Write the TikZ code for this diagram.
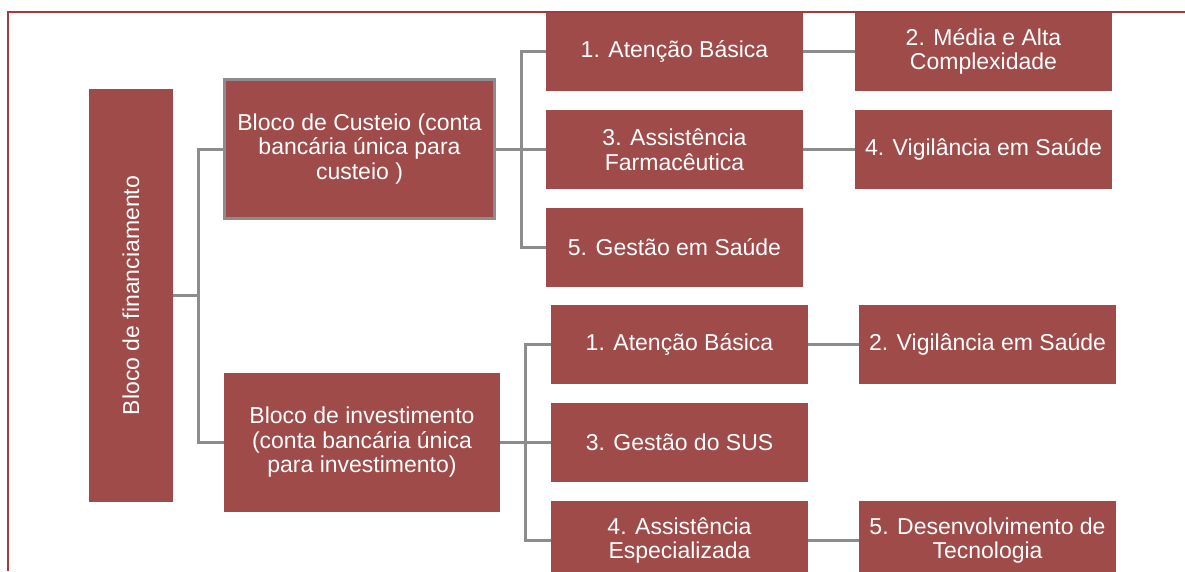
\documentclass[tikz,border=0pt]{standalone}
\usepackage{fontspec}
\usepackage{graphicx}
\setmainfont{Liberation Sans}
\definecolor{blocofill}{HTML}{9E4B4A}
\definecolor{linkgray}{HTML}{8C8C8C}
\definecolor{framered}{HTML}{A23B3B}
\tikzset{
  bloco/.style={fill=blocofill, text=white, inner sep=0pt, align=center,
    font=\fontsize{23}{24.5}\selectfont},
  caixa/.style={bloco, minimum width=257, minimum height=79},
  ligacao/.style={draw=linkgray, line width=3pt},
}
\begin{document}
\begin{tikzpicture}[x=1pt,y=-1pt]
  \clip (0,0) rectangle (1185,571);

% raiz e blocos
\node[bloco, minimum width=84, minimum height=413] (fin) at (131,295.5) {\rotatebox{90}{Bloco de financiamento}};
\node[bloco, draw=linkgray, line width=3pt, minimum width=270, minimum height=139] (custeio) at (359.5,149)
  {Bloco de Custeio (conta\\ bancária única para\\ custeio )};
\node[bloco, minimum width=276, minimum height=139] (invest) at (362,442.5)
  {Bloco de investimento\\ (conta bancária única\\ para investimento)};

% custeio
\node[caixa] (cAB) at (674.5,51.5) {1. Atenção Básica};
\node[caixa] (cAF) at (674.5,149.5) {3. Assistência\\ Farmacêutica};
\node[caixa] (cGS) at (674.5,247.5) {5. Gestão em Saúde};
\node[caixa] (cMAC) at (983.5,51.5) {2. Média e Alta\\ Complexidade};
\node[caixa] (cVS) at (983.5,149.5) {4. Vigilância em Saúde};

% investimento
\node[caixa] (iAB) at (679.5,344) {1. Atenção Básica};
\node[caixa] (iSUS) at (679.5,442.5) {3. Gestão do SUS};
\node[caixa] (iAE) at (679.5,540.5) {4. Assistência\\ Especializada};
\node[caixa] (iVS) at (987.5,344) {2. Vigilância em Saúde};
\node[caixa] (iDT) at (987.5,540.5) {5. Desenvolvimento de\\ Tecnologia};

% ligacoes
\draw[ligacao] (fin.east) -- ++(25,0) |- (custeio.west);
\draw[ligacao] (fin.east) -- ++(25,0) |- (invest.west);

\draw[ligacao] (custeio.east) -- ++(25,0) |- (cAB.west);
\draw[ligacao] (custeio.east) -- ++(25,0) |- (cAF.west);
\draw[ligacao] (custeio.east) -- ++(25,0) |- (cGS.west);
\draw[ligacao] (cAB) -- (cMAC);
\draw[ligacao] (cAF) -- (cVS);

\draw[ligacao] (invest.east) -- ++(25,0) |- (iAB.west);
\draw[ligacao] (invest.east) -- ++(25,0) |- (iSUS.west);
\draw[ligacao] (invest.east) -- ++(25,0) |- (iAE.west);
\draw[ligacao] (iAB) -- (iVS);
\draw[ligacao] (iAE) -- (iDT);

% moldura
\draw[framered, line width=2pt] (8,571) -- (8,12) -- (1185,12);

\end{tikzpicture}
\end{document}
